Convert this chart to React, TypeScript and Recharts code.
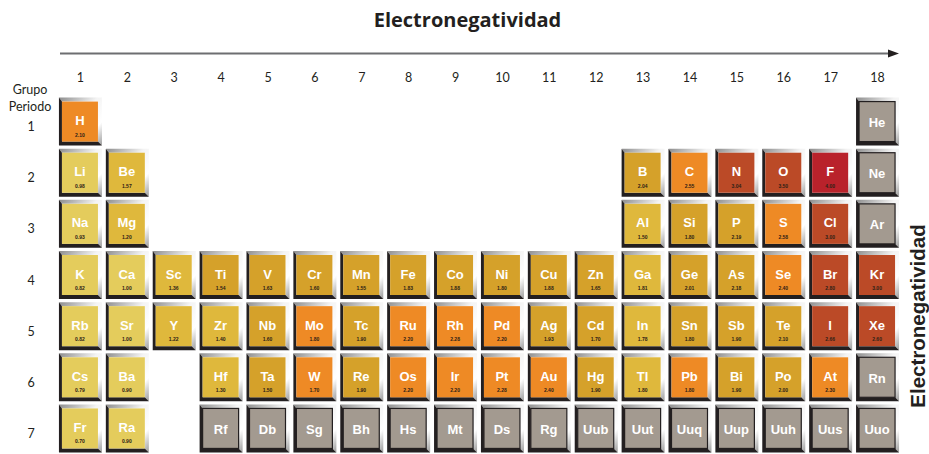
import { ScatterChart, Scatter, XAxis, YAxis } from 'recharts';

// Periodic table, one list per period
const periodSymbols = [
  ['H', 'He'],
  ['Li', 'Be', 'B', 'C', 'N', 'O', 'F', 'Ne'],
  ['Na', 'Mg', 'Al', 'Si', 'P', 'S', 'Cl', 'Ar'],
  ['K', 'Ca', 'Sc', 'Ti', 'V', 'Cr', 'Mn', 'Fe', 'Co', 'Ni', 'Cu', 'Zn', 'Ga', 'Ge', 'As', 'Se', 'Br', 'Kr'],
  ['Rb', 'Sr', 'Y', 'Zr', 'Nb', 'Mo', 'Tc', 'Ru', 'Rh', 'Pd', 'Ag', 'Cd', 'In', 'Sn', 'Sb', 'Te', 'I', 'Xe'],
  ['Cs', 'Ba', 'Hf', 'Ta', 'W', 'Re', 'Os', 'Ir', 'Pt', 'Au', 'Hg', 'Tl', 'Pb', 'Bi', 'Po', 'At', 'Rn'],
  ['Fr', 'Ra', 'Rf', 'Db', 'Sg', 'Bh', 'Hs', 'Mt', 'Ds', 'Rg', 'Uub', 'Uut', 'Uuq', 'Uup', 'Uuh', 'Uus', 'Uuo'],
];

const periodGroups = [
  [1, 18],
  [1, 2, 13, 14, 15, 16, 17, 18],
  [1, 2, 13, 14, 15, 16, 17, 18],
  [1, 2, 3, 4, 5, 6, 7, 8, 9, 10, 11, 12, 13, 14, 15, 16, 17, 18],
  [1, 2, 3, 4, 5, 6, 7, 8, 9, 10, 11, 12, 13, 14, 15, 16, 17, 18],
  [1, 2, 4, 5, 6, 7, 8, 9, 10, 11, 12, 13, 14, 15, 16, 17, 18],
  [1, 2, 4, 5, 6, 7, 8, 9, 10, 11, 12, 13, 14, 15, 16, 17, 18],
];

const periodValues = [
  [2.1, null],
  [0.98, 1.57, 2.04, 2.55, 3.04, 3.5, 4.0, null],
  [0.93, 1.2, 1.5, 1.8, 2.19, 2.58, 3.0, null],
  [0.82, 1.0, 1.36, 1.54, 1.63, 1.6, 1.55, 1.83, 1.88, 1.8, 1.88, 1.65, 1.81, 2.01, 2.18, 2.4, 2.8, 3.0],
  [0.82, 1.0, 1.22, 1.4, 1.6, 1.8, 1.9, 2.2, 2.28, 2.2, 1.93, 1.7, 1.78, 1.8, 1.9, 2.1, 2.66, 2.6],
  [0.79, 0.9, 1.3, 1.5, 1.7, 1.9, 2.2, 2.2, 2.28, 2.4, 1.9, 1.8, 1.8, 1.9, 2.0, 2.3, null],
  [0.7, 0.9, null, null, null, null, null, null, null, null, null, null, null, null, null, null, null],
];

// l light yellow, m mid yellow, d gold, o orange, r red-orange, f red, g grey
const periodTones = [
  ['o', 'g'],
  ['l', 'm', 'd', 'o', 'r', 'r', 'f', 'g'],
  ['l', 'm', 'm', 'd', 'd', 'o', 'r', 'g'],
  ['l', 'l', 'm', 'd', 'd', 'd', 'd', 'd', 'd', 'd', 'd', 'd', 'm', 'd', 'd', 'o', 'r', 'r'],
  ['l', 'l', 'm', 'm', 'd', 'o', 'd', 'o', 'o', 'o', 'd', 'd', 'm', 'd', 'd', 'd', 'r', 'r'],
  ['l', 'l', 'm', 'd', 'o', 'd', 'o', 'o', 'o', 'o', 'd', 'm', 'o', 'd', 'd', 'o', 'g'],
  ['l', 'l', 'g', 'g', 'g', 'g', 'g', 'g', 'g', 'g', 'g', 'g', 'g', 'g', 'g', 'g', 'g'],
];

const groupTicks = [1, 2, 3, 4, 5, 6, 7, 8, 9, 10, 11, 12, 13, 14, 15, 16, 17, 18];
const periodTicks = [1, 2, 3, 4, 5, 6, 7];

const toneColors: Record<string, string> = {
  l: '#e4cc5c',
  m: '#dfb83c',
  d: '#d5a12a',
  o: '#ee8a25',
  r: '#bb4a27',
  f: '#b9222b',
  g: '#a39a90',
};

const data = periodSymbols.flatMap((row, p) =>
  row.map((sym, i) => ({
    sym,
    group: periodGroups[p][i],
    period: p + 1,
    value: periodValues[p][i],
    tone: periodTones[p][i],
  }))
);

const DARK = '#231f20';
const LABEL_FONT = 'Lato, "Open Sans", sans-serif';

function ElementCell(props: any) {
  const { cx, cy, payload } = props;
  const w = 43;
  const h = 48;
  const x0 = cx - w / 2;
  const y0 = cy - h / 2;
  const x1 = x0 + w;
  const y1 = y0 + h;
  const grey = payload.tone === 'g';
  const hasValue = payload.value !== null;
  return (
    <g>
      <polygon
        points={`${x0},${y0} ${x1},${y0} ${x1},${y1} ${x1 - 4},${y1 - 4} ${x1 - 4},${y0 + 4} ${x0 + 3},${y0 + 4}`}
        fill="url(#bevelLight)"
      />
      <polygon
        points={`${x0},${y0} ${x0 + 3},${y0 + 4} ${x0 + 3},${y1 - 4} ${x1 - 4},${y1 - 4} ${x1},${y1} ${x0},${y1}`}
        fill={DARK}
      />
      <rect
        x={x0 + 3}
        y={y0 + 4}
        width={w - 7}
        height={h - 8}
        fill={toneColors[payload.tone]}
        stroke={grey ? DARK : 'none'}
        strokeWidth={grey ? 1.2 : 0}
      />
      <text
        x={cx - 0.5}
        y={hasValue ? cy + 3.5 : cy + 5.5}
        textAnchor="middle"
        fill="#ffffff"
        fontFamily='"Liberation Sans", Arial, sans-serif'
        fontWeight={700}
        fontSize={13}
      >
        {payload.sym}
      </text>
      {hasValue && (
        <text
          x={cx - 0.5}
          y={cy + 15}
          textAnchor="middle"
          fill="#2e2116"
          fontFamily='"Liberation Sans", Arial, sans-serif'
          fontWeight={700}
          fontSize={5}
        >
          {payload.value.toFixed(2)}
        </text>
      )}
    </g>
  );
}

function GroupTick(props: any) {
  const { x, payload } = props;
  return (
    <text x={x} y={82} textAnchor="middle" fill={DARK} fontFamily={LABEL_FONT} fontSize={12.5}>
      {payload.value}
    </text>
  );
}

function PeriodTick(props: any) {
  const { y, payload } = props;
  return (
    <text x={31} y={y + 9.5} textAnchor="middle" fill={DARK} fontFamily={LABEL_FONT} fontSize={12.5}>
      {payload.value}
    </text>
  );
}

export default function App() {
  return (
    <div style={{ position: 'absolute', left: 0, top: 0, width: 929, height: 454, background: '#fff' }}>
      <ScatterChart width={929} height={454} margin={{ top: 66, right: 28, bottom: 0, left: 0 }}>
        <defs>
          <linearGradient id="bevelLight" x1="0" y1="0" x2="1" y2="1">
            <stop offset="0%" stopColor="#8c8c8c" />
            <stop offset="45%" stopColor="#f4f4f4" />
            <stop offset="75%" stopColor="#ffffff" />
            <stop offset="100%" stopColor="#9a9a9a" />
          </linearGradient>
        </defs>
        <XAxis
          type="number"
          dataKey="group"
          orientation="top"
          domain={[0.5, 18.5]}
          ticks={groupTicks}
          height={30}
          axisLine={false}
          tickLine={false}
          tick={<GroupTick />}
          interval={0}
        />
        <YAxis
          type="number"
          dataKey="period"
          reversed
          domain={[0.5, 7.5]}
          ticks={periodTicks}
          width={57}
          axisLine={false}
          tickLine={false}
          tick={<PeriodTick />}
          interval={0}
        />
        <Scatter data={data} shape={<ElementCell />} isAnimationActive={false} />
      </ScatterChart>

      <svg
        width={929}
        height={454}
        style={{ position: 'absolute', left: 0, top: 0, pointerEvents: 'none' }}
      >
        <text
          x={467.5}
          y={27}
          textAnchor="middle"
          fill={DARK}
          fontFamily='"Open Sans", sans-serif'
          fontWeight={700}
          fontSize={20}
        >
          Electronegatividad
        </text>
        <line x1={60} y1={53.5} x2={891} y2={53.5} stroke="#6d6e71" strokeWidth={2} />
        <polygon points="888,49.5 899,53.5 888,57.5" fill={DARK} />
        <text x={30} y={94} textAnchor="middle" fill={DARK} fontFamily={LABEL_FONT} fontSize={12.5}>
          Grupo
        </text>
        <text x={30} y={111} textAnchor="middle" fill={DARK} fontFamily={LABEL_FONT} fontSize={12.5}>
          Periodo
        </text>
        <text
          transform="translate(925, 316) rotate(-90)"
          textAnchor="middle"
          fill={DARK}
          fontFamily='"Liberation Sans", Arial, sans-serif'
          fontWeight={700}
          fontSize={20.5}
        >
          Electronegatividad
        </text>
      </svg>
    </div>
  );
}
